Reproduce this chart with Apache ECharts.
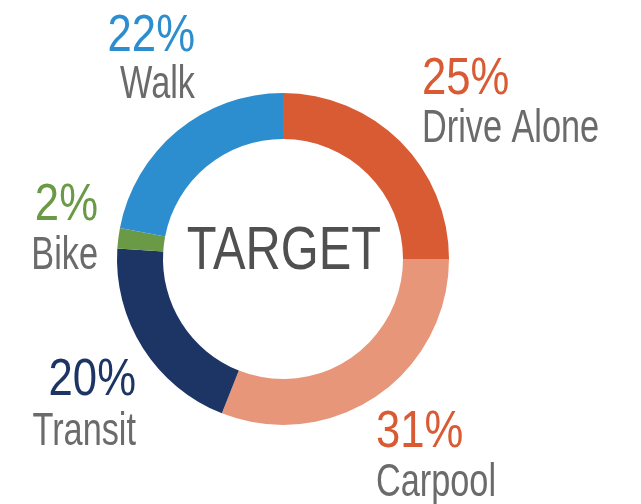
<!DOCTYPE html>
<html>
<head>
<meta charset="utf-8">
<script src="https://cdn.jsdelivr.net/npm/echarts@6/dist/echarts.min.js"></script>
<style>
  html, body { margin: 0; padding: 0; background: #ffffff; }
  #chart { width: 641px; height: 504px; }
</style>
</head>
<body>
<div id="chart"></div>
<script>
// Mode share target, clockwise from 12 o'clock
const modes = ['Drive Alone', 'Carpool', 'Transit', 'Bike', 'Walk'];
const shares = [25, 31, 20, 2, 22];
const sliceColors = ['#D95B33', '#E8967A', '#1D3565', '#6A9A45', '#2D8ECF'];
const pctColors = ['#D95B33', '#D95B33', '#1D3565', '#6A9A45', '#2D8ECF'];
const centerText = 'TARGET';

// label placement: x edge, percent line middle, name line middle, alignment
const labelAnchors = [
  [422, 80, 129, 'left'],
  [376, 433, 483, 'left'],
  [136, 381, 432, 'right'],
  [98, 206, 256, 'right'],
  [195, 37, 85, 'right']
];

const FONT = '"Liberation Sans", Arial, sans-serif';
const NAME_COLOR = '#6B6B6B';

// condensed look: draw with a horizontal squeeze
function squeezedText(x, y, text, size, squeeze, color, align) {
  return {
    type: 'text',
    x: x,
    y: y,
    scaleX: squeeze,
    silent: true,
    style: {
      text: text,
      fill: color,
      font: size + 'px ' + FONT,
      textAlign: align,
      textVerticalAlign: 'middle'
    }
  };
}

const labelGraphics = [];
modes.forEach((name, i) => {
  const a = labelAnchors[i];
  labelGraphics.push(squeezedText(a[0], a[1], shares[i] + '%', 52, 0.84, pctColors[i], a[3]));
  labelGraphics.push(squeezedText(a[0], a[2], name, 46, 0.745, NAME_COLOR, a[3]));
});
labelGraphics.push(squeezedText(284, 252, centerText, 61, 0.80, '#505050', 'center'));

const chart = echarts.init(document.getElementById('chart'), null, { renderer: 'canvas' });

chart.setOption({
  backgroundColor: '#ffffff',
  animation: false,
  graphic: labelGraphics,
  series: [{
    type: 'pie',
    center: [283, 259],
    radius: [120, 166],
    startAngle: 90,
    clockwise: true,
    silent: true,
    label: { show: false },
    labelLine: { show: false },
    data: modes.map((name, i) => ({
      name: name,
      value: shares[i],
      itemStyle: { color: sliceColors[i] }
    }))
  }]
});
</script>
</body>
</html>
